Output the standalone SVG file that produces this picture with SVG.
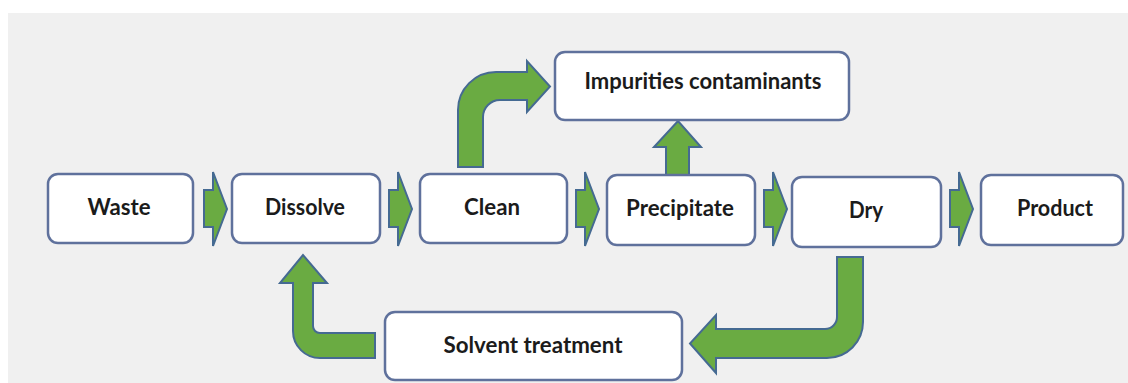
<svg xmlns="http://www.w3.org/2000/svg" width="1128" height="383" viewBox="0 0 1128 383">
<style>
.box{fill:#ffffff;stroke:#5f719c;stroke-width:2.5}
.arr{fill:#6aab42;stroke:#456a92;stroke-width:2;stroke-linejoin:miter}
.lbl{font-family:Lato,"Open Sans","Liberation Sans",sans-serif;font-weight:bold;font-size:22px;fill:#1b1b1b;text-anchor:middle}
</style>
<defs>
<path id="ra" class="arr" d="M0,18 H9 V0 L23,37 L9,74 V55 H0 Z"/>
</defs>
<rect x="0" y="0" width="1128" height="383" fill="#ffffff"/>
<rect x="8" y="13" width="1120" height="370" fill="#f0f0f0"/>
<g id="connectors">
<use href="#ra" x="204" y="172"/>
<use href="#ra" x="389" y="172"/>
<use href="#ra" x="576" y="172"/>
<use href="#ra" x="764" y="172"/>
<use href="#ra" x="950" y="172"/>
<path class="arr" d="M666,175 V147 H654 L678,121 L701,147 H689 V175 Z"/>
<path class="arr" d="M458,167 V110 A38,38 0 0 1 496,72 H527 V61 L550,86.5 L527,112 V100 H500 A17,17 0 0 0 483,117 V167 Z"/>
<path class="arr" d="M375,358 H320 A27,27 0 0 1 293,331 V283 H280 L303,255 L327,283 H313 V326 A7,7 0 0 0 320,333 H375 Z"/>
<path class="arr" d="M837,257 H863 V322 A36,36 0 0 1 827,358 H716 V373 L690,343.5 L716,315 V329 H825 A12,12 0 0 0 837,317 Z"/>
</g>
<g id="waste"><rect class="box" x="48" y="174" width="145" height="69" rx="10"/><text class="lbl" x="119" y="215" textLength="63" lengthAdjust="spacingAndGlyphs">Waste</text></g>
<g id="dissolve"><rect class="box" x="232" y="174" width="148" height="69" rx="10"/><text class="lbl" x="305" y="215" textLength="80" lengthAdjust="spacingAndGlyphs">Dissolve</text></g>
<g id="clean"><rect class="box" x="420" y="174" width="147" height="69" rx="10"/><text class="lbl" x="492" y="215" textLength="56" lengthAdjust="spacingAndGlyphs">Clean</text></g>
<g id="precipitate"><rect class="box" x="607" y="175" width="148" height="70" rx="10"/><text class="lbl" x="680" y="216" textLength="108" lengthAdjust="spacingAndGlyphs">Precipitate</text></g>
<g id="dry"><rect class="box" x="792" y="177" width="149" height="70" rx="10"/><text class="lbl" x="866" y="218" textLength="34" lengthAdjust="spacingAndGlyphs">Dry</text></g>
<g id="product"><rect class="box" x="981" y="175" width="142" height="70" rx="10"/><text class="lbl" x="1055" y="216" textLength="76" lengthAdjust="spacingAndGlyphs">Product</text></g>
<g id="impurities"><rect class="box" x="555" y="52" width="294" height="68" rx="10"/><text class="lbl" x="703" y="89" textLength="237" lengthAdjust="spacingAndGlyphs">Impurities contaminants</text></g>
<g id="solvent"><rect class="box" x="385" y="312" width="297" height="68" rx="10"/><text class="lbl" x="533" y="353" textLength="179" lengthAdjust="spacingAndGlyphs">Solvent treatment</text></g>
</svg>
